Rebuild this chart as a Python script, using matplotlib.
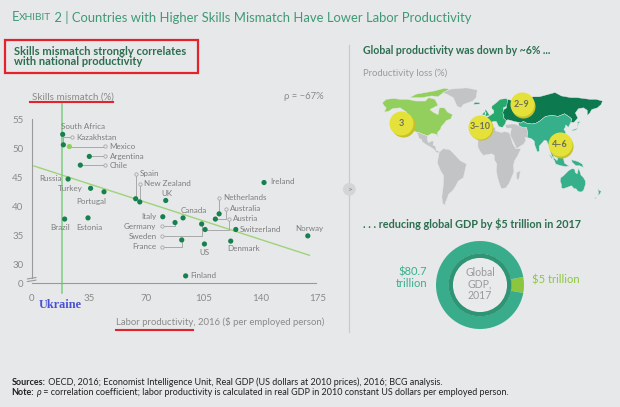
import numpy as np
import matplotlib.pyplot as plt
from matplotlib.patches import Rectangle, Polygon, Circle
from matplotlib.lines import Line2D

plt.rcParams['font.family'] = ['Lato', 'DejaVu Sans']

W, H = 620, 407
BG = '#e7e8ea'
GREEN_T = '#3e9a74'
GREEN_D = '#2c6f50'
GRAY = '#7d7d7d'
RED = '#e3222b'

# ---- scatter data (labor productivity $k, skills mismatch %) ----
countries = ['South Africa', 'Kazakhstan', 'Mexico', 'Argentina', 'Chile', 'Russia',
             'Turkey', 'Portugal', 'Spain', 'New Zealand', 'UK', 'Brazil', 'Estonia',
             'Italy', 'Germany', 'Canada', 'Sweden', 'France', 'US', 'Netherlands',
             'Australia', 'Austria', 'Switzerland', 'Denmark', 'Finland', 'Ireland', 'Norway']
productivity = [19.0, 19.4, 23.1, 35.3, 29.8, 22.3, 36.1, 44.3, 63.7, 66.2, 82.1, 20.2, 34.5,
                80.3, 87.8, 92.7, 104.1, 91.9, 105.8, 114.8, 112.5, 106.2, 125.0, 121.9,
                94.3, 142.3, 169.1]
mismatch = [52.4, 50.6, 50.3, 48.6, 47.1, 44.7, 43.1, 42.5, 41.3, 40.75, 41.0, 37.8, 38.0,
            38.2, 37.2, 38.0, 36.95, 34.2, 33.5, 38.7, 37.8, 36.0, 36.0, 34.0, 28.0, 44.1, 34.9]
highlight = ['Mexico']
trend_x = [1.4, 170.1]
trend_y = [46.95, 31.55]
ukraine_x = 18.6
x_ticks = [0, 35, 70, 105, 140, 175]
y_ticks = [30, 35, 40, 45, 50, 55]
y_zero = 26.72   # where the broken axis puts "0"

# label placement: text x, text y, alignment, leader circle (cx, cy, kind)
label_pos = {
    'South Africa': (17.8, 53.75, 'left', None),
    'Kazakhstan': (27.3, 51.9, 'left', (24.5, 51.9, 'v')),
    'Mexico': (47.8, 50.35, 'left', (44.9, 50.35, 'h')),
    'Argentina': (47.8, 48.65, 'left', (44.9, 48.65, 'h')),
    'Chile': (47.8, 47.1, 'left', (44.9, 47.1, 'h')),
    'Russia': (18.2, 44.75, 'right', None),
    'Turkey': (31.3, 43.0, 'right', None),
    'Portugal': (36.3, 40.9, 'center', None),
    'Spain': (66.4, 45.6, 'left', (63.7, 45.5, 'v')),
    'New Zealand': (68.8, 43.9, 'left', (66.2, 43.85, 'v')),
    'UK': (83.1, 42.15, 'center', None),
    'Brazil': (17.6, 36.4, 'center', None),
    'Estonia': (35.1, 36.4, 'center', None),
    'Italy': (76.2, 38.25, 'right', None),
    'Germany': (76.4, 36.6, 'right', (79.6, 36.6, 'v')),
    'Canada': (99.0, 39.25, 'center', None),
    'Sweden': (76.4, 34.8, 'right', (79.6, 34.8, 'v')),
    'France': (76.4, 33.05, 'right', (79.6, 33.05, 'v')),
    'US': (106.0, 32.1, 'center', None),
    'Netherlands': (117.3, 41.45, 'left', (114.8, 41.4, 'v')),
    'Australia': (121.3, 39.65, 'left', (118.8, 39.6, 'h')),
    'Austria': (123.4, 37.9, 'left', (120.9, 37.76, 'h')),
    'Switzerland': (127.6, 36.0, 'left', None),
    'Denmark': (129.7, 32.65, 'center', None),
    'Finland': (97.4, 28.05, 'left', None),
    'Ireland': (146.0, 44.2, 'left', None),
    'Norway': (169.9, 36.15, 'center', None),
}

# ---- map: rough region outlines (lon, lat) ----
na_us_canada = [(-168, 66), (-162, 70), (-150, 71), (-140, 70), (-128, 70), (-115, 68), (-100, 68),
                (-95, 72), (-85, 70), (-80, 63), (-93, 58), (-88, 55), (-80, 52), (-78, 60), (-70, 60),
                (-65, 55), (-57, 52), (-60, 47), (-67, 45), (-70, 42), (-75, 38), (-76, 35), (-81, 31),
                (-80, 26), (-83, 29), (-90, 30), (-97, 27), (-104, 29), (-111, 31), (-117, 32),
                (-121, 35), (-124, 40), (-124, 47), (-130, 55), (-140, 60), (-152, 59), (-158, 56),
                (-165, 55), (-162, 60), (-166, 63)]
na_arctic = [(-125, 72), (-115, 76), (-100, 78), (-85, 80), (-70, 83), (-62, 82), (-75, 76),
             (-80, 73), (-90, 74), (-105, 72)]
greenland = [(-73, 78), (-60, 82), (-35, 83.5), (-18, 81), (-20, 72), (-25, 68), (-40, 64), (-44, 60),
             (-50, 62), (-53, 67), (-56, 72), (-66, 76)]
central_am = [(-117, 32), (-111, 31), (-104, 29), (-97, 27), (-97, 22), (-95, 19), (-90, 21), (-87, 21),
              (-88, 16), (-84, 15), (-83, 10), (-79, 9), (-77, 8), (-80, 7), (-83, 8), (-86, 11),
              (-92, 14), (-97, 16), (-105, 20), (-106, 23), (-110, 24), (-112, 29), (-114, 31)]
south_am = [(-78, 8), (-72, 12), (-62, 11), (-55, 6), (-50, 2), (-45, -2), (-35, -6), (-37, -12),
            (-40, -22), (-48, -26), (-53, -33), (-58, -38), (-63, -41), (-66, -47), (-69, -52),
            (-68, -55), (-73, -52), (-74, -44), (-72, -33), (-71, -20), (-76, -14), (-81, -5), (-80, 1)]
africa = [(-17, 21), (-16, 27), (-10, 30), (-6, 35), (0, 36), (10, 37), (11, 33), (20, 31), (25, 32),
          (32, 31), (34, 28), (38, 18), (43, 12), (51, 12), (46, 4), (41, -2), (39, -8), (40, -15),
          (35, -24), (32, -29), (27, -34), (20, -35), (17, -29), (14, -22), (12, -13), (13, -6),
          (9, -1), (9, 4), (5, 6), (-4, 5), (-8, 4), (-13, 8), (-17, 14)]
madagascar = [(44, -16), (50, -14), (49, -20), (47, -25), (44, -23)]
middle_east = [(26, 40), (36, 41), (42, 41), (48, 39), (54, 37), (60, 37), (62, 30), (62, 25), (57, 25),
               (59, 22), (55, 17), (52, 16), (44, 12), (42, 16), (38, 22), (34, 28), (35, 32), (36, 36),
               (28, 36)]
europe = [(-9, 37), (-9, 43), (-2, 43.5), (-4, 48), (2, 51), (8, 54), (8, 57), (5, 59), (5, 62), (12, 66),
          (18, 70), (28, 71), (30, 69), (29, 62), (23, 60), (24, 56), (24, 52), (24, 48), (28, 45),
          (26, 41), (22, 37), (16, 38), (12, 44), (8, 44), (3, 43), (0, 39), (-2, 37)]
uk_ie = [(-5.5, 50), (1.5, 51), (0, 53), (-2, 55.5), (-5, 58.5), (-6, 56), (-4, 54), (-5, 52)]
ireland_shape = [(-10, 52), (-6, 52), (-6, 55), (-8, 55)]
iceland = [(-24, 64), (-14, 64.5), (-14, 66), (-22, 66.5)]
russia = [(22, 54), (24, 58), (28, 60), (30, 70), (40, 68), (44, 66), (50, 68), (60, 69), (70, 73),
          (80, 73), (95, 76), (105, 78), (115, 74), (130, 72), (140, 72), (150, 71), (160, 70),
          (170, 70), (180, 68), (178, 64), (172, 60), (163, 58), (160, 54), (156, 51), (156, 57),
          (150, 60), (142, 59), (137, 54), (141, 48), (135, 43), (130, 43), (131, 47), (128, 49),
          (120, 53), (110, 50), (100, 51), (90, 50), (85, 47), (80, 44), (75, 42), (68, 41), (60, 42),
          (55, 44), (50, 42), (47, 43), (40, 44), (36, 45), (30, 46), (28, 45), (24, 48), (24, 52)]
asia = [(47, 43), (50, 42), (55, 44), (60, 42), (68, 41), (75, 42), (80, 44), (85, 47), (90, 50),
        (100, 51), (110, 50), (120, 53), (128, 49), (131, 47), (130, 43), (128, 40), (126, 37),
        (122, 40), (121, 37), (119, 35), (122, 31), (120, 26), (115, 23), (110, 21), (108, 18),
        (109, 12), (106, 9), (103, 10), (100, 13), (101, 6), (104, 1), (100, 3), (98, 8), (98, 15),
        (94, 17), (92, 21), (88, 22), (86, 20), (80, 15), (80, 9), (77, 8), (73, 16), (72, 21),
        (67, 24), (61, 25), (62, 30), (60, 37), (54, 37), (48, 39)]
japan = [(130, 31), (132, 34), (136, 35), (140, 36), (141, 41), (140, 43), (143, 44), (145, 43.5),
         (142, 42), (141, 38), (140, 35), (136, 33.5), (131, 33)]
philippines = [(120, 18), (122, 18), (124, 12), (126, 7), (122, 7), (121, 12)]
indonesia = [(95, 5.5), (98, 4), (104, -2), (106, -6), (114, -8), (122, -9), (127, -8.5), (120, -5),
             (118, 1), (117, 7), (110, 2), (108, -2), (104, 1), (100, 0)]
png = [(131, -1), (141, -3), (148, -6), (150, -10), (144, -8), (138, -8), (132, -4)]
australia = [(114, -22), (118, -20), (122, -17), (126, -14), (130, -12), (133, -11.5), (136, -12),
             (137, -16), (140, -17.5), (142, -11), (144, -14), (146, -19), (150, -22), (153, -26),
             (153, -30), (150, -37), (146, -39), (141, -38), (138, -35), (135, -35), (131, -31.5),
             (124, -33.5), (118, -35), (115, -34), (115, -30), (113, -26)]
new_zealand = [(172.5, -34.5), (175, -37), (178, -38), (176, -41), (174, -42), (171, -44),
               (167, -46.5), (169, -46.5), (172, -43), (174, -40)]

map_regions = [
    (na_us_canada, '#93cf5c'), (na_arctic, '#93cf5c'),
    (greenland, '#c3c4c6'), (central_am, '#c3c4c6'), (south_am, '#c3c4c6'),
    (africa, '#c3c4c6'), (madagascar, '#c3c4c6'), (middle_east, '#c3c4c6'),
    (europe, '#27a86c'), (uk_ie, '#27a86c'), (ireland_shape, '#27a86c'), (iceland, '#27a86c'),
    (russia, '#0c7a4e'),
    (asia, '#35b08b'), (japan, '#35b08b'), (philippines, '#35b08b'), (indonesia, '#35b08b'),
    (png, '#35b08b'), (australia, '#35b08b'), (new_zealand, '#35b08b'),
]
loss_labels = ['3', '3–10', '2–9', '4–6']
loss_lon = [-138, -14, 52, 112]
loss_lat = [42, 38, 64, 17]

# ---- donut ----
gdp_values = [5, 80.7]
gdp_colors = ['#8cc63f', '#39ad8b']


def fx(x):
    return x / W


def fy(y):
    return 1 - y / H


fig = plt.figure(figsize=(W / 100, H / 100), dpi=100)
fig.patch.set_facecolor(BG)
rend = fig.canvas.get_renderer()


def run_text(x, y, parts, **kw):
    cx = x
    for s, props in parts:
        t = fig.text(fx(cx), fy(y), s, va='center', ha='left', **kw, **props)
        cx += t.get_window_extent(renderer=rend).width
    return cx


# title with small caps "EXHIBIT"
run_text(11.5, 17.3, [('E', dict(fontsize=9.4)), ('XHIBIT', dict(fontsize=7.3)),
                      (' 2 | Countries with Higher Skills Mismatch Have Lower Labor Productivity',
                       dict(fontsize=9.4))], color=GREEN_T)

# subtitle in red box
fig.text(fx(14), fy(51.7), 'Skills mismatch strongly correlates', color=GREEN_D,
         fontsize=8.0, fontweight='bold', va='center')
fig.text(fx(14), fy(61.9), 'with national productivity', color=GREEN_D,
         fontsize=8.0, fontweight='bold', va='center')
fig.patches.append(Rectangle((fx(4.5), fy(72.5)), fx(197.5) - fx(4.5), fy(40.5) - fy(72.5),
                             transform=fig.transFigure, fill=False, ec=RED, lw=1.6))

# divider
fig.add_artist(Line2D([fx(349.3)] * 2, [fy(45), fy(332)], color='#c9cacc', lw=0.9))
fig.text(fx(349.3), fy(189.3), '>', color='#8a8a8a', fontsize=6, ha='center', va='center',
         bbox=dict(boxstyle='circle,pad=0.35', fc='#d4d5d7', ec='none'))

# ---- scatter ----
ax = fig.add_axes([fx(23.5), fy(287.5), fx(325.6) - fx(23.5), fy(104.8) - fy(287.5)])
ax.set_facecolor('none')
ax.set_xlim(-5, 180)
ax.set_ylim(26.0, 57.5)
for s in ['top', 'right']:
    ax.spines[s].set_visible(False)
ax.spines['left'].set_position(('data', 0))
ax.spines['left'].set_bounds(27.65, 55)
ax.spines['bottom'].set_position(('data', y_zero))
ax.spines['bottom'].set_bounds(0, 174)
for s in ['left', 'bottom']:
    ax.spines[s].set_color('#9a9a9a')
    ax.spines[s].set_linewidth(0.8)
ax.set_xticks(x_ticks)
ax.set_yticks([y_zero] + y_ticks)
ax.set_yticklabels(['0'] + [str(v) for v in y_ticks])
ax.tick_params(length=0, labelsize=7, labelcolor='#8a8a8a')
ax.tick_params(axis='x', pad=8)
ax.tick_params(axis='y', pad=6)

# axis break marks
for yb in [27.15, 27.6]:
    ax.plot([-2.6, 2.6], [yb - 0.12, yb + 0.12], color='#9a9a9a', lw=0.8, clip_on=False)

ax.plot(trend_x, trend_y, color='#9fd37a', lw=1.0, zorder=2)
ax.axvline(ukraine_x, ymin=-0.03, ymax=1.01, color='#7ccd84', lw=1.1, clip_on=False, zorder=2)

for name, xv, yv in zip(countries, productivity, mismatch):
    tx, ty, ha, lead = label_pos[name]
    if lead is not None:
        cx, cy, kind = lead
        if kind == 'v':
            px_, py_ = [xv, xv, cx], [yv, cy, cy]
        else:
            px_, py_ = [xv, cx, cx], [yv, yv, cy]
        ax.plot(px_, py_, color='#a9a9a9', lw=0.7, zorder=2)
        ax.plot(cx, cy, 'o', ms=2.4, mfc=BG, mec='#a9a9a9', mew=0.6, zorder=3)
    ax.text(tx, ty, name, fontsize=5.8, color=GRAY, ha=ha, va='center')

colors = ['#8dd05f' if c in highlight else '#16804e' for c in countries]
ax.scatter(productivity, mismatch, s=14, c=colors, zorder=4, linewidths=0)

fig.text(fx(31.5), fy(96.7), 'Skills mismatch (%)', color='#8a8a8a', fontsize=7.1, va='center')
fig.add_artist(Line2D([fx(30), fx(112.7)], [fy(101.9)] * 2, color=RED, lw=1.5))
fig.text(fx(323.3), fy(96.7), 'ρ = −67%', color='#8a8a8a', fontsize=6.8, va='center', ha='right')
fig.text(fx(116), fy(322.3), 'Labor productivity, 2016 ($ per employed person)',
         color='#8a8a8a', fontsize=6.95, va='center')
fig.add_artist(Line2D([fx(116), fx(193)], [fy(329.5)] * 2, color=RED, lw=1.5))
fig.text(fx(60.7), fy(305), 'Ukraine', family=['Liberation Serif', 'DejaVu Serif'],
         fontweight='bold', color='#4a50d2', fontsize=8.8, ha='center', va='center')

# ---- right panel: map ----
fig.text(fx(362.7), fy(50.7), 'Global productivity was down by ~6% ...', color=GREEN_D,
         fontsize=7.6, fontweight='bold', va='center')
fig.text(fx(362.7), fy(73.3), 'Productivity loss (%)', color='#9a9a9a', fontsize=6.8, va='center')

axm = fig.add_axes([fx(378), fy(210), fx(612) - fx(378), fy(84) - fy(210)])
axm.set_xlim(-175, 195)
axm.set_ylim(-60, 88)
axm.axis('off')
for pts, col in map_regions:
    axm.add_patch(Polygon(pts, closed=True, fc=col, ec=BG, lw=0.3))
axm.scatter(np.array(loss_lon) + 2.4, np.array(loss_lat) - 1.8, s=300, c='#c6c12b',
            linewidths=0, zorder=5)
axm.scatter(loss_lon, loss_lat, s=300, c='#e4e13a', linewidths=0, zorder=6)
for lab, lo, la in zip(loss_labels, loss_lon, loss_lat):
    axm.text(lo, la, lab, fontsize=6.5, color='#6e6e5a', fontweight='bold',
             ha='center', va='center', zorder=7)

# ---- right panel: donut ----
fig.text(fx(362.7), fy(224), '. . . reducing global GDP by $5 trillion in 2017', color=GREEN_D,
         fontsize=7.8, fontweight='bold', va='center')

axd = fig.add_axes([fx(436), fy(329), 88 / W, 88 / H])
half = gdp_values[0] / sum(gdp_values) * 180
axd.pie(gdp_values, colors=gdp_colors, startangle=-half, radius=1,
        wedgeprops=dict(width=0.29, edgecolor='none'))
axd.add_patch(Circle((0, 0), 0.715, fc='#2f9474', ec='none'))
axd.add_patch(Circle((0, 0), 0.615, fc='#e9eaec', ec='none'))
axd.set_xlim(-1, 1)
axd.set_ylim(-1, 1)
axd.axis('off')
axd.text(0, 0.03, 'Global\nGDP,\n2017', fontsize=7.6, color='#9a9a9a', ha='center',
         va='center', linespacing=1.05)

fig.text(fx(427), fy(278), '$80.7\ntrillion', color='#3aae8c', fontsize=8, ha='right',
         va='center', linespacing=1.05)
fig.text(fx(531.7), fy(280), '$5 trillion', color='#8cc63f', fontsize=8, va='center')

# ---- footer ----
run_text(11.7, 382.7, [('Sources:', dict(fontweight='bold')),
                       (' OECD, 2016; Economist Intelligence Unit, Real GDP (US dollars at 2010 prices), '
                        '2016; BCG analysis.', {})], color='#222222', fontsize=6.5)
run_text(11.7, 392.9, [('Note:', dict(fontweight='bold')),
                       (' ', {}), ('ρ', dict(fontstyle='italic')),
                       (' = correlation coefficient; labor productivity is calculated in real GDP in '
                        '2010 constant US dollars per employed person.', {})],
         color='#222222', fontsize=6.5)

fig.savefig('out.png', dpi=100, facecolor=BG)
